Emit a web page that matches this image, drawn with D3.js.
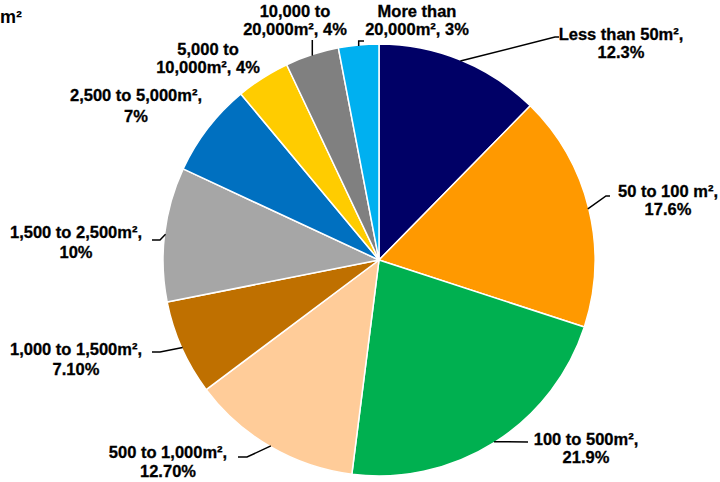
<!DOCTYPE html>
<html>
<head>
<meta charset="utf-8">
<script src="https://cdn.jsdelivr.net/npm/d3@7"></script>
<style>
  html, body { margin: 0; padding: 0; background: #fff; }
  svg { display: block; }
  text { font-family: "Liberation Sans", Arial, sans-serif; font-weight: bold; fill: #000; }
</style>
</head>
<body>
<svg id="chart" width="720" height="482"></svg>
<script>
// Share of units by floor-area band
const categories = [
  "Less than 50m²", "50 to 100 m²", "100 to 500m²", "500 to 1,000m²",
  "1,000 to 1,500m²", "1,500 to 2,500m²", "2,500 to 5,000m²",
  "5,000 to 10,000m²", "10,000 to 20,000m²", "More than 20,000m²"
];
const values = [12.3, 17.6, 21.9, 12.7, 7.1, 10, 7, 4, 4, 3];
const valueLabels = ["12.3%", "17.6%", "21.9%", "12.70%", "7.10%", "10%", "7%", "4%", "4%", "3%"];
const colors = ["#000066", "#FF9900", "#00B050", "#FFCC99", "#BF7000",
                "#A6A6A6", "#0070C0", "#FFCC00", "#808080", "#00B0F0"];

// Label text lines per slice
const labelLines = [
  ["Less than 50m²,", "12.3%"],
  ["50 to 100 m²,", "17.6%"],
  ["100 to 500m²,", "21.9%"],
  ["500 to 1,000m²,", "12.70%"],
  ["1,000 to 1,500m²,", "7.10%"],
  ["1,500 to 2,500m²,", "10%"],
  ["2,500 to 5,000m²,", "7%"],
  ["5,000 to", "10,000m², 4%"],
  ["10,000 to", "20,000m², 4%"],
  ["More than", "20,000m², 3%"]
];

// Label placement: text centre x, first baseline y, line gap, leader bend points
const labelLayout = [
  { x: 621, y: 40,  gap: 18, path: [[555, 37], [559, 37]] },
  { x: 668, y: 197, gap: 18, path: [[606, 196], [610, 196]] },
  { x: 586, y: 445, gap: 18, path: [[528, 442]] },
  { x: 168, y: 458, gap: 19, path: [[247, 457], [238, 457]] },
  { x: 76,  y: 355, gap: 20, path: [[160, 352], [152, 352]] },
  { x: 76,  y: 238, gap: 20, path: [[160, 240], [152, 240]] },
  { x: 136, y: 101, gap: 21, path: null },
  { x: 208, y: 55,  gap: 18, path: null },
  { x: 295, y: 17,  gap: 18, path: [[null, 40]] },
  { x: 417, y: 17,  gap: 18, path: [[null, 41], [364, 41]] }
];

const svg = d3.select("#chart");
const cx = 379, cy = 260, radius = 216;

const pie = d3.pie().sort(null).value(d => d)
  .startAngle(0).endAngle(2 * Math.PI);
const arcs = pie(values);

const arc = d3.arc().innerRadius(0).outerRadius(radius);

const g = svg.append("g").attr("transform", `translate(${cx},${cy})`);

g.selectAll("path.slice")
  .data(arcs)
  .join("path")
  .attr("class", "slice")
  .attr("d", arc)
  .attr("fill", (d, i) => colors[i])
  .attr("stroke", "#fff")
  .attr("stroke-width", 1.5)
  .attr("stroke-linejoin", "round");

// Leader lines from slice edge to label
arcs.forEach((d, i) => {
  const lay = labelLayout[i];
  if (!lay.path) return;
  const mid = (d.startAngle + d.endAngle) / 2;
  const sx = cx + Math.sin(mid) * (radius - 1);
  const sy = cy - Math.cos(mid) * (radius - 1);
  const pts = [[sx, sy]];
  lay.path.forEach(p => pts.push([p[0] === null ? sx : p[0], p[1]]));
  svg.append("path")
    .attr("d", d3.line()(pts))
    .attr("fill", "none")
    .attr("stroke", "#000")
    .attr("stroke-width", 1.5);
});

// Slice labels
labelLines.forEach((lines, i) => {
  const lay = labelLayout[i];
  const t = svg.append("text")
    .attr("text-anchor", "middle")
    .attr("font-size", 16.5)
    .attr("stroke", "#000")
    .attr("stroke-width", 0.3);
  lines.forEach((ln, k) => {
    t.append("tspan").attr("x", lay.x).attr("y", lay.y + k * lay.gap).text(ln);
  });
});

// Unit marker at the top-left corner
svg.append("text")
  .attr("x", 0).attr("y", 23)
  .attr("text-anchor", "start")
  .attr("font-size", 18)
  .text("m²");
</script>
</body>
</html>
